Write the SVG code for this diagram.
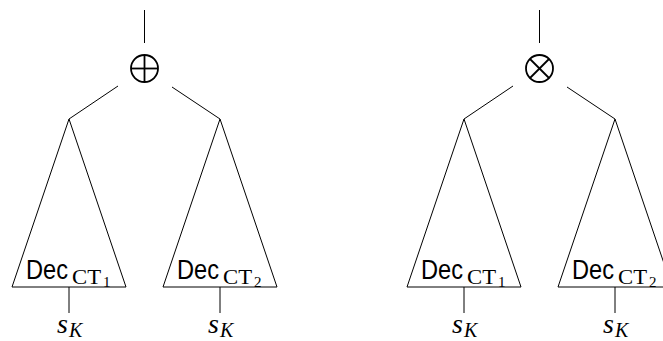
<svg xmlns="http://www.w3.org/2000/svg" width="663" height="341" viewBox="0 0 663 341">
<style>
line, polygon, circle { stroke: #000; fill: none; stroke-width: 1; }
.op { stroke-width: 1.8; }
.dec { font-family: "Liberation Sans", Arial, sans-serif; font-size: 27px; }
.ct { font-family: "Liberation Serif", "Times New Roman", serif; font-size: 20px; }
.ci { font-family: "Liberation Serif", "Times New Roman", serif; font-size: 15px; }
.s { font-family: "Liberation Serif", "Times New Roman", serif; font-style: italic; font-size: 28px; }
.k { font-family: "Liberation Serif", "Times New Roman", serif; font-style: italic; font-size: 20px; }
</style>
<defs>
<g id="subtree">
  <polygon points="0,0 -57,168 57,168"/>
  <line x1="0" y1="168" x2="0" y2="194"/>
</g>
</defs>
<g id="connectors">
  <line x1="144.5" y1="10" x2="144.5" y2="43"/>
  <line x1="118" y1="86" x2="69" y2="119"/>
  <line x1="172" y1="87" x2="220" y2="119"/>
  <line x1="539.5" y1="10" x2="539.5" y2="43"/>
  <line x1="513" y1="86" x2="464" y2="119"/>
  <line x1="567" y1="87" x2="615" y2="119"/>
</g>
<g id="oplus">
  <circle class="op" cx="144.5" cy="68.5" r="13.5"/>
  <line class="op" x1="131" y1="68.5" x2="158" y2="68.5"/>
  <line class="op" x1="144.5" y1="55" x2="144.5" y2="82"/>
</g>
<g id="otimes">
  <circle class="op" cx="539.5" cy="68.5" r="13.5"/>
  <line class="op" x1="530" y1="59" x2="549" y2="78"/>
  <line class="op" x1="549" y1="59" x2="530" y2="78"/>
</g>
<g id="dec-l1" transform="translate(69,119)">
  <use href="#subtree"/>
  <text class="dec" x="-43" y="160" textLength="42" lengthAdjust="spacingAndGlyphs">Dec</text><text class="ct" x="3" y="165" textLength="29" lengthAdjust="spacingAndGlyphs">CT</text><text class="ci" x="34" y="168">1</text>
  <text class="s" x="-12" y="214">s</text><text class="k" x="0" y="218">K</text>
</g>
<g id="dec-l2" transform="translate(220,119)">
  <use href="#subtree"/>
  <text class="dec" x="-43" y="160" textLength="42" lengthAdjust="spacingAndGlyphs">Dec</text><text class="ct" x="3" y="165" textLength="29" lengthAdjust="spacingAndGlyphs">CT</text><text class="ci" x="34" y="168">2</text>
  <text class="s" x="-12" y="214">s</text><text class="k" x="0" y="218">K</text>
</g>
<g id="dec-r1" transform="translate(464,119)">
  <use href="#subtree"/>
  <text class="dec" x="-43" y="160" textLength="42" lengthAdjust="spacingAndGlyphs">Dec</text><text class="ct" x="3" y="165" textLength="29" lengthAdjust="spacingAndGlyphs">CT</text><text class="ci" x="34" y="168">1</text>
  <text class="s" x="-12" y="214">s</text><text class="k" x="0" y="218">K</text>
</g>
<g id="dec-r2" transform="translate(615,119)">
  <use href="#subtree"/>
  <text class="dec" x="-43" y="160" textLength="42" lengthAdjust="spacingAndGlyphs">Dec</text><text class="ct" x="3" y="165" textLength="29" lengthAdjust="spacingAndGlyphs">CT</text><text class="ci" x="34" y="168">2</text>
  <text class="s" x="-12" y="214">s</text><text class="k" x="0" y="218">K</text>
</g>
</svg>
